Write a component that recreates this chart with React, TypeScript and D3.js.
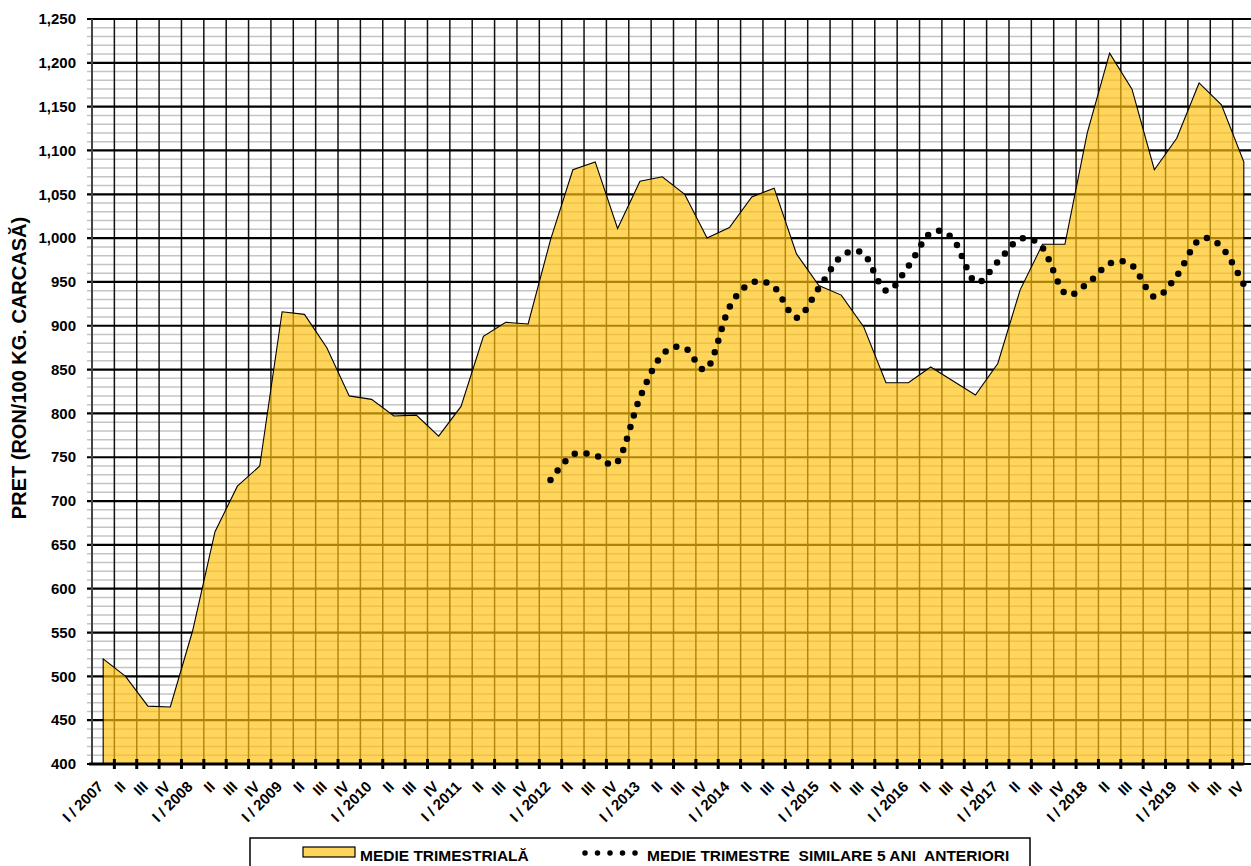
import React, { useRef, useEffect } from "react";
import * as d3 from "d3";

// quarters I/2007 .. IV/2019
const years = [2007, 2008, 2009, 2010, 2011, 2012, 2013, 2014, 2015, 2016, 2017, 2018, 2019];
const quarterNames = ["I", "II", "III", "IV"];
const categories = years.flatMap((yr) =>
  quarterNames.map((q) => (q === "I" ? `I / ${yr}` : q))
);

// MEDIE TRIMESTRIALĂ (area)
const medieTrimestriala = [
  520, 500, 466, 465, 552, 665, 717, 740,
  916, 913, 875, 820, 816, 797, 798, 774,
  808, 888, 904, 902, 998, 1078, 1087, 1011,
  1065, 1070, 1050, 1000, 1012, 1047, 1057, 982,
  946, 935, 899, 835, 835, 853, 837, 821,
  857, 941, 993, 993, 1120, 1211, 1170, 1078,
  1114, 1177, 1152, 1087,
];

// MEDIE TRIMESTRE SIMILARE 5 ANI ANTERIORI (starts I / 2012)
const medie5Ani = [
  724, 753, 752, 745, 818, 867, 875, 851,
  921, 949, 944, 909, 943, 979, 982, 940,
  968, 1006, 999, 950, 973, 999, 989, 937,
  948, 971, 969, 933, 957, 998, 990, 947,
];
const medie5AniStart = 20;

const yTicks = [400, 450, 500, 550, 600, 650, 700, 750, 800, 850, 900, 950, 1000, 1050, 1100, 1150, 1200, 1250];

export default function App() {
  const svgRef = useRef(null);

  useEffect(() => {
    d3.select(svgRef.current).selectAll("*").remove();

    const width = 1251;
    const height = 866;
    const left = 92;
    const top = 19;
    const bottom = 764;
    const font = "'Liberation Sans', Arial, sans-serif";

    const svg = d3.select(svgRef.current)
      .attr("width", width)
      .attr("height", height);

    svg.append("rect").attr("width", width).attr("height", height).attr("fill", "#fff");

    // scales (labels repeat, so the band domain is the quarter index)
    const idx = d3.range(categories.length);
    const xScale = d3.scaleBand().domain(idx).range([left, 1255]).padding(0);
    const bw = xScale.bandwidth();
    const cx = (i) => xScale(i) + bw / 2;

    const yScale = d3.scaleLinear().domain([400, 1250]).range([bottom, top]);

    // minor grid
    const minor = d3.range(400, 1251, 10).filter((v) => v % 50 !== 0);
    svg.append("g")
      .selectAll("line")
      .data(minor)
      .join("line")
      .attr("x1", left - 5)
      .attr("x2", width)
      .attr("y1", (d) => yScale(d))
      .attr("y2", (d) => yScale(d))
      .attr("stroke", "#c4c4c4")
      .attr("stroke-width", 1.5);

    // vertical grid at quarter boundaries
    svg.append("g")
      .selectAll("line")
      .data(idx.slice(1))
      .join("line")
      .attr("x1", (d) => xScale(d))
      .attr("x2", (d) => xScale(d))
      .attr("y1", top)
      .attr("y2", bottom)
      .attr("stroke", "#111")
      .attr("stroke-width", 1.5);

    // major grid
    svg.append("g")
      .selectAll("line")
      .data(yTicks)
      .join("line")
      .attr("x1", left - 5)
      .attr("x2", width)
      .attr("y1", (d) => yScale(d))
      .attr("y2", (d) => yScale(d))
      .attr("stroke", "#000")
      .attr("stroke-width", 2.2);

    // y axis line
    svg.append("line")
      .attr("x1", left).attr("x2", left)
      .attr("y1", top).attr("y2", bottom)
      .attr("stroke", "#444").attr("stroke-width", 2);

    // area
    const area = d3.area()
      .x((d, i) => cx(i))
      .y0(yScale(400))
      .y1((d) => yScale(d));

    svg.append("path")
      .datum(medieTrimestriala)
      .attr("d", area)
      .attr("fill", "#FFC20E")
      .attr("fill-opacity", 0.68)
      .attr("stroke", "#000")
      .attr("stroke-width", 1.1);

    // dotted smoothed line
    const line = d3.line()
      .x((d, i) => cx(i + medie5AniStart))
      .y((d) => yScale(d))
      .curve(d3.curveCardinal.tension(0));

    svg.append("path")
      .datum(medie5Ani)
      .attr("d", line)
      .attr("fill", "none")
      .attr("stroke", "#000")
      .attr("stroke-width", 6.5)
      .attr("stroke-linecap", "round")
      .attr("stroke-dasharray", "0 12");

    // x axis
    svg.append("line")
      .attr("x1", left - 3).attr("x2", cx(categories.length - 1))
      .attr("y1", bottom).attr("y2", bottom)
      .attr("stroke", "#000").attr("stroke-width", 3);

    svg.append("g")
      .selectAll("line")
      .data(idx.slice(1))
      .join("line")
      .attr("x1", (d) => xScale(d))
      .attr("x2", (d) => xScale(d))
      .attr("y1", bottom - 5)
      .attr("y2", bottom + 5)
      .attr("stroke", "#000")
      .attr("stroke-width", 3);

    // x labels
    svg.append("g")
      .selectAll("text")
      .data(categories)
      .join("text")
      .attr("transform", (d, i) => `translate(${cx(i) - 2.7},${bottom + 20}) rotate(-45)`)
      .attr("text-anchor", "end")
      .attr("dy", "0.35em")
      .attr("font-family", font)
      .attr("font-weight", "bold")
      .attr("font-size", 15)
      .attr("fill", "#000")
      .text((d) => d);

    // y labels
    svg.append("g")
      .selectAll("text")
      .data(yTicks)
      .join("text")
      .attr("x", 76)
      .attr("y", (d) => yScale(d))
      .attr("dy", "0.35em")
      .attr("text-anchor", "end")
      .attr("font-family", font)
      .attr("font-weight", "bold")
      .attr("font-size", 15)
      .attr("fill", "#000")
      .text((d) => d3.format(",")(d));

    // y title
    svg.append("text")
      .attr("transform", `translate(26,368) rotate(-90)`)
      .attr("text-anchor", "middle")
      .attr("font-family", font)
      .attr("font-weight", "bold")
      .attr("font-size", 20)
      .attr("fill", "#000")
      .text("PRET (RON/100 KG. CARCASĂ)");

    // legend
    const lg = svg.append("g");
    lg.append("rect")
      .attr("x", 250).attr("y", 838)
      .attr("width", 780).attr("height", 40)
      .attr("fill", "#fff")
      .attr("stroke", "#000")
      .attr("stroke-width", 1.5);
    lg.append("rect")
      .attr("x", 303).attr("y", 847)
      .attr("width", 52).attr("height", 10)
      .attr("fill", "#FFD45A")
      .attr("stroke", "#000")
      .attr("stroke-width", 1.2);
    lg.append("text")
      .attr("x", 360).attr("y", 861)
      .attr("font-family", font)
      .attr("font-weight", "bold")
      .attr("font-size", 15.5)
      .text("MEDIE TRIMESTRIALĂ");
    lg.append("line")
      .attr("x1", 585).attr("x2", 637)
      .attr("y1", 853).attr("y2", 853)
      .attr("stroke", "#000")
      .attr("stroke-width", 5.5)
      .attr("stroke-linecap", "round")
      .attr("stroke-dasharray", "0 12.5");
    lg.append("text")
      .attr("x", 647).attr("y", 861)
      .attr("font-family", font)
      .attr("font-weight", "bold")
      .attr("font-size", 15.5)
      .attr("xml:space", "preserve")
      .text("MEDIE TRIMESTRE  SIMILARE 5 ANI  ANTERIORI");
  }, []);

  return (
    <div style={{ position: "absolute", left: 0, top: 0 }}>
      <svg ref={svgRef} style={{ display: "block" }}></svg>
    </div>
  );
}
